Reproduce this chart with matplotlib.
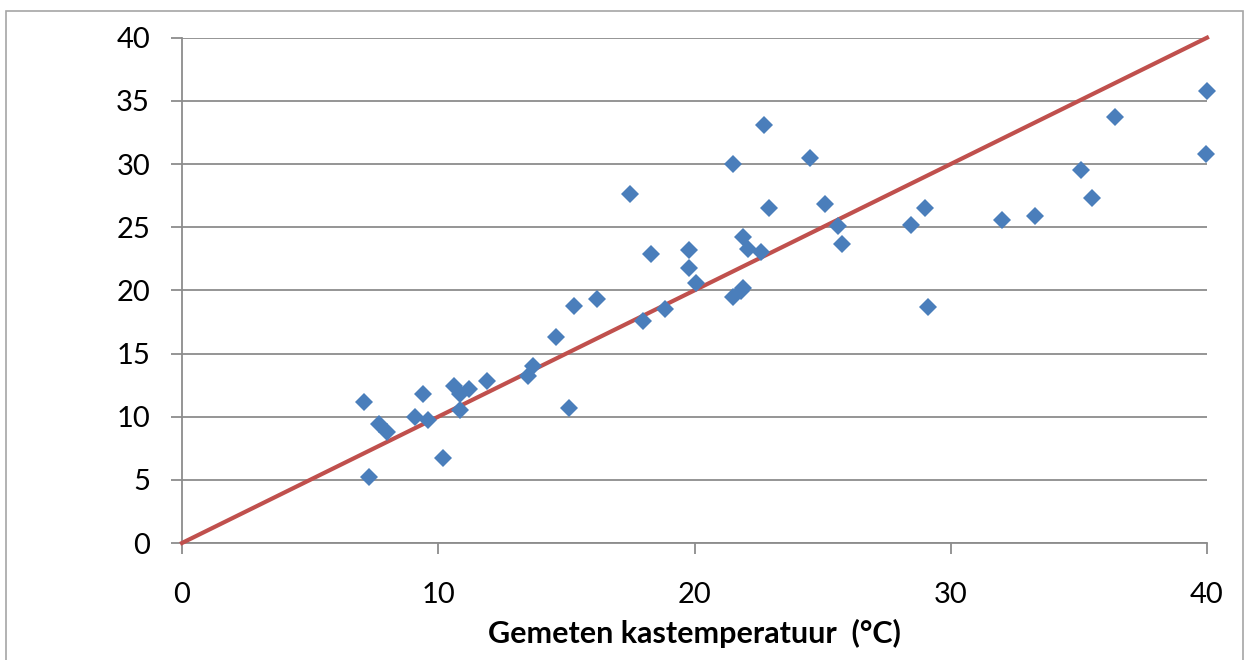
import matplotlib.pyplot as plt
from matplotlib.patches import Rectangle

# measured vs predicted greenhouse temperature
x_vals = [7.1, 7.3, 7.7, 8.0, 9.1, 9.4, 9.6, 10.2, 10.6, 10.85, 10.85, 11.2, 11.9,
          13.5, 13.7, 14.6, 15.1, 15.3, 16.2, 17.5, 18.0, 18.3, 18.85, 19.8, 19.8,
          20.05, 21.5, 21.5, 21.8, 21.9, 21.9, 22.1, 22.6, 22.7, 22.9, 24.5, 25.1,
          25.6, 25.75, 28.45, 29.0, 29.1, 32.0, 33.3, 35.1, 35.5, 36.4, 39.95, 40.0]
y_vals = [11.15, 5.2, 9.4, 8.75, 10.0, 11.8, 9.75, 6.7, 12.45, 11.8, 10.5, 12.2, 12.8,
          13.2, 14.0, 16.3, 10.65, 18.75, 19.3, 27.6, 17.6, 22.9, 18.55, 23.2, 21.75,
          20.55, 30.0, 19.45, 19.95, 20.2, 24.2, 23.3, 23.05, 33.1, 26.5, 30.5, 26.8,
          25.1, 23.7, 25.2, 26.5, 18.65, 25.6, 25.9, 29.5, 27.3, 33.7, 30.8, 35.8]
line_x = [0, 40]
line_y = [0, 40]

plt.rcParams['font.family'] = ['Lato', 'DejaVu Sans']

fig = plt.figure(figsize=(12.47, 6.6), dpi=100)
ax = fig.add_axes([182 / 1247, 1 - 543 / 660, (1207 - 182) / 1247, (543 - 37.7) / 660])

# outer chart border
fig.patches.append(Rectangle((6 / 1247, -0.05), (1243 - 6) / 1247, 1.05 - 11 / 660,
                             transform=fig.transFigure, fill=False,
                             edgecolor='#a6a6a6', linewidth=1.2))

ax.plot(line_x, line_y, color='#C0504D', linewidth=3.0, zorder=3, clip_on=False)
ax.plot(x_vals, y_vals, 'D', color='#4A7EBB', markersize=9.5, markeredgewidth=0,
        zorder=4, clip_on=False)

ax.set_xlim(0, 40)
ax.set_ylim(0, 40)
ax.set_xticks([0, 10, 20, 30, 40])
ax.set_yticks(range(0, 41, 5))
ax.yaxis.grid(True, color='#8c8c8c', linewidth=1.3)
ax.set_axisbelow(True)

for s in ['top', 'right']:
    ax.spines[s].set_visible(False)
for s in ['left', 'bottom']:
    ax.spines[s].set_color('#8c8c8c')
    ax.spines[s].set_linewidth(1.3)

ax.tick_params(axis='y', length=8, width=1.3, color='#8c8c8c', pad=15, labelsize=21)
ax.tick_params(axis='x', length=8, width=1.3, color='#8c8c8c', pad=20, labelsize=21)

ax.set_xlabel('Gemeten kastemperatuur  (°C)', fontsize=22, fontweight='bold', labelpad=8)

fig.savefig('out.png', dpi=100)
